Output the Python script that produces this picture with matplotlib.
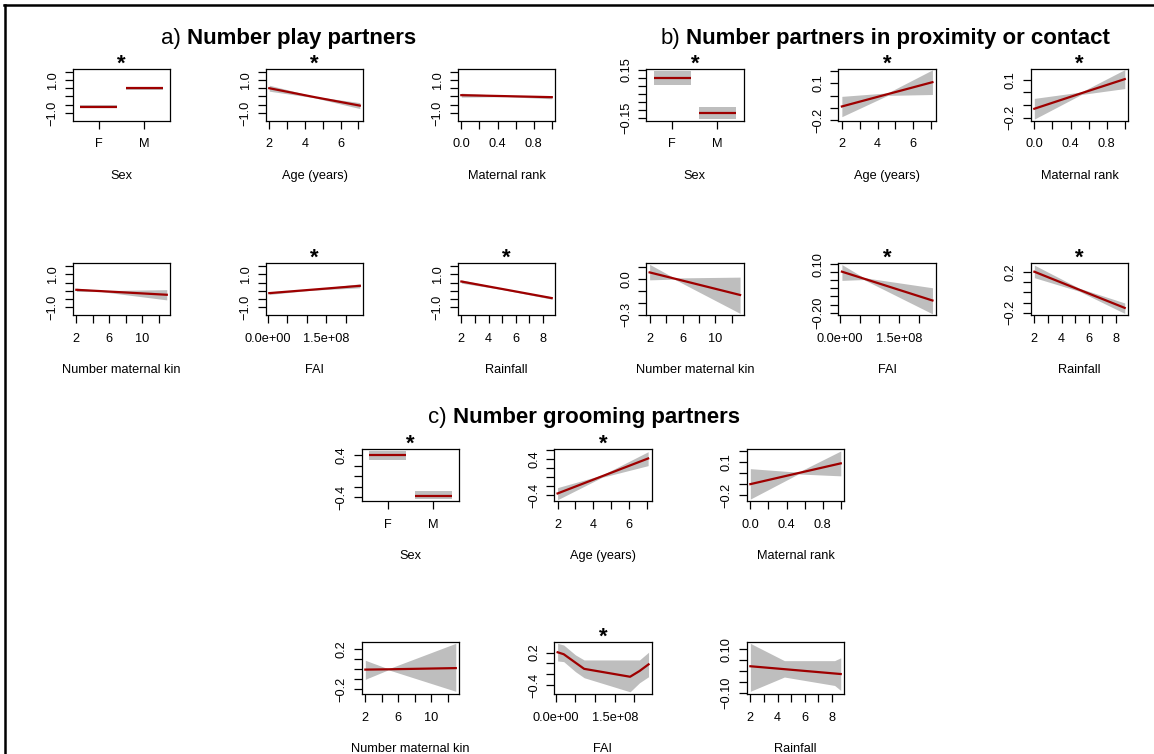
import matplotlib
matplotlib.use("Agg")
import matplotlib.pyplot as plt
from matplotlib.lines import Line2D

plt.rcParams["font.family"] = ["Liberation Sans", "DejaVu Sans"]

# ---- data ---------------------------------------------------------------
sex_levels = ["F", "M"]

# a) number play partners
a_sex_fit = [-0.61, 0.50]
a_sex_lo = [-0.70, 0.41]
a_sex_hi = [-0.52, 0.59]
a_age_x = [2.0, 4.5, 7.08]
a_age_fit = [0.50, -0.03, -0.55]
a_age_lo = [0.32, -0.07, -0.73]
a_age_hi = [0.68, 0.01, -0.37]
a_rank_x = [0.0, 0.5, 1.0]
a_rank_fit = [0.08, 0.02, -0.04]
a_rank_lo = [-0.04, -0.01, -0.14]
a_rank_hi = [0.20, 0.05, 0.06]
a_kin_x = [2.0, 5.0, 13.0]
a_kin_fit = [0.06, -0.02, -0.24]
a_kin_lo = [-0.04, -0.05, -0.55]
a_kin_hi = [0.16, 0.01, 0.07]
a_fai_x = [4.5e6, 1.1e8, 2.35e8]
a_fai_fit = [-0.14, 0.06, 0.30]
a_fai_lo = [-0.22, 0.03, 0.18]
a_fai_hi = [-0.06, 0.09, 0.42]
a_rain_x = [2.0, 5.0, 8.65]
a_rain_fit = [0.56, 0.11, -0.44]
a_rain_lo = [0.46, 0.08, -0.51]
a_rain_hi = [0.66, 0.14, -0.37]

# b) number partners in proximity or contact
b_sex_fit = [0.097, -0.119]
b_sex_lo = [0.055, -0.159]
b_sex_hi = [0.144, -0.081]
b_age_x = [2.0, 4.57, 7.08]
b_age_fit = [-0.087, 0.013, 0.11]
b_age_lo = [-0.17, 0.003, 0.01]
b_age_hi = [-0.005, 0.023, 0.21]
b_rank_x = [0.0, 0.52, 1.0]
b_rank_fit = [-0.13, -0.007, 0.105]
b_rank_lo = [-0.212, -0.017, 0.03]
b_rank_hi = [-0.048, 0.003, 0.18]
b_kin_x = [2.0, 5.0, 13.0]
b_kin_fit = [0.057, 0.005, -0.134]
b_kin_lo = [-0.006, 0.0, -0.29]
b_kin_hi = [0.125, 0.01, 0.017]
b_fai_x = [4.5e6, 6.0e7, 2.35e8]
b_fai_fit = [0.054, 0.011, -0.125]
b_fai_lo = [0.0, 0.005, -0.208]
b_fai_hi = [0.098, 0.017, -0.046]
b_rain_x = [2.0, 5.3, 8.65]
b_rain_fit = [0.2, 0.025, -0.152]
b_rain_lo = [0.142, 0.01, -0.206]
b_rain_hi = [0.264, 0.04, -0.104]

# c) number grooming partners
c_sex_fit = [0.40, -0.37]
c_sex_lo = [0.32, -0.44]
c_sex_hi = [0.48, -0.28]
c_age_x = [2.0, 4.5, 7.08]
c_age_fit = [-0.36, 0.024, 0.42]
c_age_lo = [-0.50, 0.0, 0.26]
c_age_hi = [-0.23, 0.05, 0.57]
c_rank_x = [0.0, 0.53, 1.0]
c_rank_fit = [-0.10, 0.0, 0.088]
c_rank_lo = [-0.235, -0.008, -0.025]
c_rank_hi = [0.04, 0.008, 0.20]
c_kin_x = [2.0, 4.8, 13.0]
c_kin_fit = [-0.003, 0.0, 0.012]
c_kin_lo = [-0.10, -0.005, -0.22]
c_kin_hi = [0.09, 0.005, 0.26]
c_fai_x = [0.45e7, 2.0e7, 5.0e7, 7.2e7, 1.89e8, 2.13e8, 2.36e8]
c_fai_fit = [0.206, 0.17, 0.014, -0.10, -0.246, -0.14, -0.017]
c_fai_lo = [0.045, 0.033, -0.153, -0.264, -0.524, -0.357, -0.246]
c_fai_hi = [0.37, 0.34, 0.157, 0.064, 0.064, 0.064, 0.206]
c_rain_x = [2.0, 4.5, 8.2, 8.65]
c_rain_fit = [0.022, 0.0085, -0.0116, -0.014]
c_rain_lo = [-0.094, -0.028, -0.067, -0.09]
c_rain_hi = [0.128, 0.048, 0.048, 0.061]

# y axes: tick values, shown labels, limits
a_yticks = [-1.0, -0.5, 0.0, 0.5, 1.0, 1.5]
a_ylabels = ["\u22121.0", "", "", "", "1.0", ""]
a_ylim = (-1.48, 1.66)

# x axes per covariate
xlabels = {"sex": "Sex", "age": "Age (years)", "rank": "Maternal rank",
           "kin": "Number maternal kin", "fai": "FAI", "rain": "Rainfall"}
xticks = {"sex": [1, 2], "age": [2, 3, 4, 5, 6, 7],
          "rank": [0, 0.2, 0.4, 0.6, 0.8, 1.0], "kin": [2, 4, 6, 8, 10, 12],
          "fai": [0, 5e7, 1e8, 1.5e8, 2e8], "rain": [2, 3, 4, 5, 6, 7, 8]}
xticklabels = {"sex": sex_levels, "age": ["2", "", "4", "", "6", ""],
               "rank": ["0.0", "", "0.4", "", "0.8", ""],
               "kin": ["2", "", "6", "", "10", ""],
               "fai": ["0.0e+00", "", "", "1.5e+08", ""],
               "rain": ["2", "", "4", "", "6", "", "8"]}
xlims = {"sex": (0.418, 2.582), "age": (1.80, 7.28), "rank": (-0.04, 1.04),
         "kin": (1.56, 13.44), "fai": (-0.47e7, 2.44e8), "rain": (1.73, 8.92)}

# ---- figure -------------------------------------------------------------
W, H = 1154, 754
fig = plt.figure(figsize=(W / 100, H / 100), dpi=100)
RED = "#9e0000"
GREY = "#bebebe"
BW, BH = 97.7, 52.0
FS = 9.2


def fx(px):
    return px / W


def fy(py):
    return 1 - py / H


def panel(x0, y0, kind, x, fit, lo, hi, ylim, yticks, ylabs, star):
    ax = fig.add_axes([fx(x0), fy(y0 + BH), BW / W, BH / H])
    if kind == "sex":
        for i in range(len(fit)):
            seg = [i + 1 - 0.41, i + 1 + 0.41]
            ax.fill_between(seg, [lo[i]] * 2, [hi[i]] * 2, color=GREY, lw=0)
            ax.plot(seg, [fit[i]] * 2, color=RED, lw=1.6, solid_capstyle="butt")
    else:
        ax.fill_between(x, lo, hi, color=GREY, lw=0)
        ax.plot(x, fit, color=RED, lw=1.6)
    ax.set_xlim(*xlims[kind])
    ax.set_ylim(*ylim)
    ax.set_xticks(xticks[kind])
    ax.set_xticklabels(xticklabels[kind])
    ax.set_yticks(yticks)
    ax.set_yticklabels(ylabs, rotation=90, va="center")
    ax.tick_params(direction="out", length=5.5, width=0.9, labelsize=FS)
    ax.tick_params(axis="x", pad=7.0)
    ax.tick_params(axis="y", pad=4.5)
    for s in ax.spines.values():
        s.set_linewidth(0.9)
    cx = x0 + BW / 2
    fig.text(fx(cx), fy(y0 + BH + 55), xlabels[kind], fontsize=FS,
             ha="center", va="center")
    if star:
        fig.text(fx(cx), fy(y0 + 0.5), "*", fontsize=16, weight="bold",
                 ha="center", va="baseline")
    return ax


def title(cx, base, tag, text):
    t1 = fig.text(0, fy(base), tag, fontsize=16, va="baseline")
    t2 = fig.text(0, fy(base), text, fontsize=16, weight="bold", va="baseline")
    r = fig.canvas.get_renderer()
    w1 = t1.get_window_extent(r).width
    w2 = t2.get_window_extent(r).width
    gap = 6
    left = cx - (w1 + gap + w2) / 2
    t1.set_x(fx(left))
    t2.set_x(fx(left + w1 + gap))


ax_cols_a = [72.7, 265.7, 457.7]
ax_cols_b = [646.0, 838.3, 1030.7]
ax_cols_c = [361.7, 554.0, 746.7]
rows_ab = [69.0, 263.3]
rows_c = [449.3, 642.3]

# a)
ya, yb = rows_ab
panel(ax_cols_a[0], ya, "sex", None, a_sex_fit, a_sex_lo, a_sex_hi, a_ylim, a_yticks, a_ylabels, True)
panel(ax_cols_a[1], ya, "age", a_age_x, a_age_fit, a_age_lo, a_age_hi, a_ylim, a_yticks, a_ylabels, True)
panel(ax_cols_a[2], ya, "rank", a_rank_x, a_rank_fit, a_rank_lo, a_rank_hi, a_ylim, a_yticks, a_ylabels, False)
panel(ax_cols_a[0], yb, "kin", a_kin_x, a_kin_fit, a_kin_lo, a_kin_hi, a_ylim, a_yticks, a_ylabels, False)
panel(ax_cols_a[1], yb, "fai", a_fai_x, a_fai_fit, a_fai_lo, a_fai_hi, a_ylim, a_yticks, a_ylabels, True)
panel(ax_cols_a[2], yb, "rain", a_rain_x, a_rain_fit, a_rain_lo, a_rain_hi, a_ylim, a_yticks, a_ylabels, True)

# b)
panel(ax_cols_b[0], ya, "sex", None, b_sex_fit, b_sex_lo, b_sex_hi, (-0.171, 0.156),
      [-0.15, -0.10, -0.05, 0.0, 0.05, 0.10, 0.15],
      ["\u22120.15", "", "", "", "", "", "0.15"], True)
panel(ax_cols_b[1], ya, "age", b_age_x, b_age_fit, b_age_lo, b_age_hi, (-0.205, 0.217),
      [-0.2, -0.1, 0.0, 0.1, 0.2], ["\u22120.2", "", "", "0.1", ""], True)
panel(ax_cols_b[2], ya, "rank", b_rank_x, b_rank_fit, b_rank_lo, b_rank_hi, (-0.227, 0.185),
      [-0.2, -0.1, 0.0, 0.1], ["\u22120.2", "", "", "0.1"], True)
panel(ax_cols_b[0], yb, "kin", b_kin_x, b_kin_fit, b_kin_lo, b_kin_hi, (-0.306, 0.134),
      [-0.3, -0.2, -0.1, 0.0, 0.1], ["\u22120.3", "", "", "0.0", ""], False)
panel(ax_cols_b[1], yb, "fai", b_fai_x, b_fai_fit, b_fai_lo, b_fai_hi, (-0.217, 0.106),
      [-0.20, -0.15, -0.10, -0.05, 0.0, 0.05, 0.10],
      ["\u22120.20", "", "", "", "", "", "0.10"], True)
panel(ax_cols_b[2], yb, "rain", b_rain_x, b_rain_fit, b_rain_lo, b_rain_hi, (-0.224, 0.282),
      [-0.2, -0.1, 0.0, 0.1, 0.2], ["\u22120.2", "", "", "", "0.2"], True)

# c)
yc, yd = rows_c
panel(ax_cols_c[0], yc, "sex", None, c_sex_fit, c_sex_lo, c_sex_hi, (-0.477, 0.517),
      [-0.4, -0.2, 0.0, 0.2, 0.4], ["\u22120.4", "", "", "", "0.4"], True)
panel(ax_cols_c[1], yc, "age", c_age_x, c_age_fit, c_age_lo, c_age_hi, (-0.535, 0.624),
      [-0.4, -0.2, 0.0, 0.2, 0.4, 0.6], ["\u22120.4", "", "", "", "0.4", ""], True)
panel(ax_cols_c[2], yc, "rank", c_rank_x, c_rank_fit, c_rank_lo, c_rank_hi, (-0.255, 0.215),
      [-0.2, -0.1, 0.0, 0.1, 0.2], ["\u22120.2", "", "", "0.1", ""], False)
panel(ax_cols_c[0], yd, "kin", c_kin_x, c_kin_fit, c_kin_lo, c_kin_hi, (-0.25, 0.27),
      [-0.2, -0.1, 0.0, 0.1, 0.2], ["\u22120.2", "", "", "", "0.2"], False)
panel(ax_cols_c[1], yd, "fai", c_fai_x, c_fai_fit, c_fai_lo, c_fai_hi, (-0.57, 0.39),
      [-0.4, -0.2, 0.0, 0.2], ["\u22120.4", "", "", "0.2"], True)
panel(ax_cols_c[2], yd, "rain", c_rain_x, c_rain_fit, c_rain_lo, c_rain_hi, (-0.108, 0.133),
      [-0.10, -0.05, 0.0, 0.05, 0.10], ["\u22120.10", "", "", "", "0.10"], False)

title(288.6, 44, "a)", "Number play partners")
title(885.0, 44, "b)", "Number partners in proximity or contact")
title(583.7, 423, "c)", "Number grooming partners")

# outer frame (left and top edges visible in the crop)
fig.add_artist(Line2D([fx(5), fx(5)], [fy(5), fy(760)], color="black", lw=1.8))
fig.add_artist(Line2D([fx(4), fx(1160)], [fy(5), fy(5)], color="black", lw=1.8))

fig.savefig("out.png", dpi=100)
